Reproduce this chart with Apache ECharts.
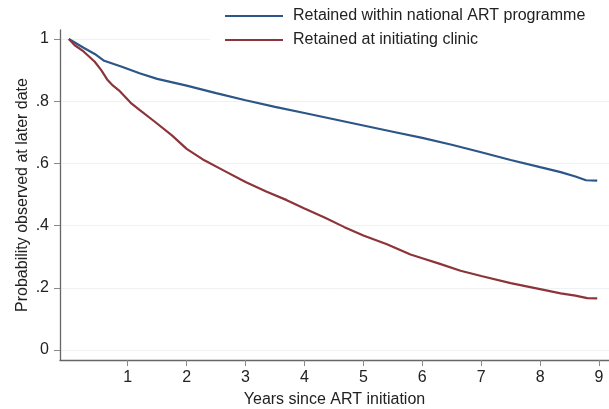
<!DOCTYPE html>
<html><head><meta charset="utf-8">
<script src="https://cdn.jsdelivr.net/npm/echarts@6/dist/echarts.min.js"></script>
<style>html,body{margin:0;padding:0;background:#fff}#c{width:609px;height:409px}</style>
</head><body><div id="c"></div>
<script>
const seriesNames = ["Retained within national ART programme", "Retained at initiating clinic"];
const nationalT = [0, 0.25, 0.44, 0.6, 0.9, 1.2, 1.5, 2.0, 2.5, 3.0, 3.5, 4.0, 4.5, 5.0, 5.5, 6.0, 6.5, 7.0, 7.5, 8.0, 8.35, 8.6, 8.78, 8.97];
const nationalV = [1.0, 0.972, 0.952, 0.93, 0.911, 0.89, 0.872, 0.85, 0.826, 0.803, 0.782, 0.762, 0.742, 0.722, 0.702, 0.682, 0.66, 0.636, 0.611, 0.588, 0.572, 0.558, 0.546, 0.545];
const clinicT = [0, 0.1, 0.25, 0.44, 0.55, 0.65, 0.75, 0.85, 0.95, 1.05, 1.2, 1.46, 1.75, 2.0, 2.3, 2.6, 3.0, 3.35, 3.7, 4.0, 4.35, 4.67, 5.0, 5.4, 5.8, 6.0, 6.3, 6.65, 7.0, 7.5, 8.0, 8.35, 8.6, 8.8, 8.97];
const clinicV = [1.0, 0.98, 0.96, 0.927, 0.9, 0.87, 0.85, 0.835, 0.815, 0.795, 0.772, 0.734, 0.69, 0.647, 0.61, 0.58, 0.54, 0.51, 0.482, 0.455, 0.425, 0.396, 0.368, 0.34, 0.307, 0.295, 0.277, 0.255, 0.238, 0.215, 0.196, 0.182, 0.175, 0.167, 0.166];
const xTicks = [1, 2, 3, 4, 5, 6, 7, 8, 9];
const yTicks = [0, 0.2, 0.4, 0.6, 0.8, 1];
const yTickLabels = ["0", ".2", ".4", ".6", ".8", "1"];
const colors = ["#2c5687", "#8c3439"];

const zip = (t, v) => t.map((x, i) => [x, v[i]]);
const font = "'Liberation Sans', Arial, Helvetica, sans-serif";
const chart = echarts.init(document.getElementById('c'), null, {renderer: 'canvas'});
chart.setOption({
  animation: false,
  backgroundColor: '#fff',
  grid: {left: 60, right: 0, top: 30, bottom: 49, containLabel: false, outerBoundsMode: 'none'},
  legend: {
    orient: 'vertical', left: 210, top: 0,
    backgroundColor: '#fff',
    padding: [8, 200, 6, 15],
    itemGap: 8,
    itemWidth: 58, itemHeight: 2,
    icon: 'rect',
    textStyle: {fontFamily: font, fontSize: 16, color: '#222', padding: [0, 0, 0, 5]},
    data: seriesNames
  },
  xAxis: {
    type: 'value', min: -0.15, max: 9.17,
    name: 'Years since ART initiation', nameLocation: 'middle', nameGap: 40, nameMoveOverlap: false,
    nameTextStyle: {fontFamily: font, fontSize: 16, color: '#222', verticalAlign: 'middle'},
    axisLine: {show: true, onZero: false, lineStyle: {color: '#666', width: 1.3}},
    axisTick: {show: true, length: 6, customValues: xTicks, lineStyle: {color: '#888'}},
    axisLabel: {customValues: xTicks, fontFamily: font, fontSize: 16, color: '#222', margin: 10},
    splitLine: {show: false}
  },
  yAxis: {
    type: 'value', min: -0.032, max: 1.029,
    name: 'Probability observed at later date', nameLocation: 'middle', nameGap: 37, nameMoveOverlap: false,
    nameTextStyle: {fontFamily: font, fontSize: 16, color: '#222', verticalAlign: 'middle'},
    axisLine: {show: true, onZero: false, lineStyle: {color: '#666', width: 1.3}},
    axisTick: {show: true, length: 6, customValues: yTicks, lineStyle: {color: '#888'}},
    axisLabel: {customValues: yTicks, fontFamily: font, fontSize: 16, color: '#222', margin: 11,
      formatter: v => { const i = yTicks.findIndex(t => Math.abs(t - v) < 1e-6); return i >= 0 ? yTickLabels[i] : ''; }},
    splitLine: {show: true, lineStyle: {color: '#eef2f4', width: 1}}
  },
  series: [
    {name: seriesNames[0], type: 'line', data: zip(nationalT, nationalV), symbol: 'none', smooth: false,
     lineStyle: {color: colors[0], width: 2.2}, itemStyle: {color: colors[0]}},
    {name: seriesNames[1], type: 'line', data: zip(clinicT, clinicV), symbol: 'none', smooth: false,
     lineStyle: {color: colors[1], width: 2.2}, itemStyle: {color: colors[1]}}
  ]
});
</script></body></html>
